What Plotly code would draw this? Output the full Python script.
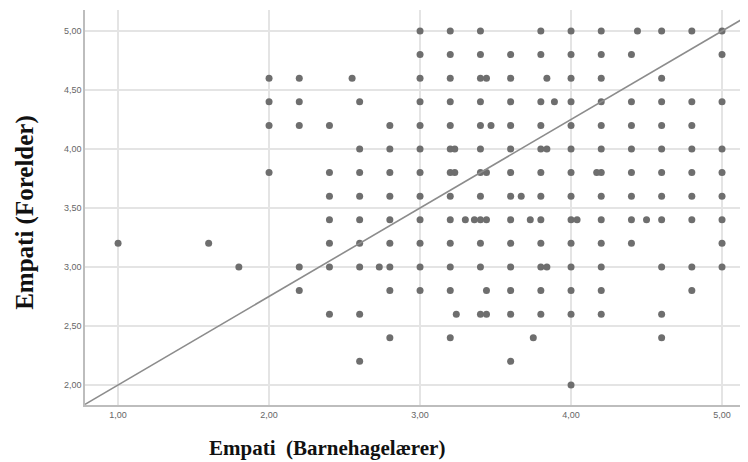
import plotly.graph_objects as go

# Parent empathy (y) rows -> teacher empathy (x) values
row_500 = [3.0, 3.2, 3.4, 3.8, 4.0, 4.2, 4.44, 4.6, 4.8, 5.0]
row_480 = [3.0, 3.2, 3.4, 3.6, 3.8, 4.0, 4.2, 4.4, 5.0]
row_460 = [2.0, 2.2, 2.55, 3.0, 3.2, 3.4, 3.44, 3.6, 3.84, 4.0, 4.2, 4.6]
row_440 = [2.0, 2.2, 2.6, 3.0, 3.2, 3.4, 3.6, 3.8, 3.89, 4.0, 4.2, 4.4, 4.6, 4.8, 5.0]
row_420 = [2.0, 2.2, 2.4, 2.8, 3.0, 3.2, 3.4, 3.47, 3.6, 3.8, 4.0, 4.2, 4.4, 4.6, 4.8]
row_400 = [2.6, 2.8, 3.0, 3.2, 3.23, 3.4, 3.6, 3.8, 3.84, 4.0, 4.2, 4.4, 4.6, 4.8, 5.0]
row_380 = [2.0, 2.4, 2.6, 2.8, 3.0, 3.2, 3.23, 3.4, 3.44, 3.6, 3.8, 4.0, 4.17, 4.2, 4.4, 4.6, 4.8, 5.0]
row_360 = [2.4, 2.6, 2.8, 3.0, 3.2, 3.4, 3.6, 3.67, 3.8, 4.0, 4.2, 4.4, 4.6, 4.8, 5.0]
row_340 = [2.4, 2.6, 2.8, 3.0, 3.2, 3.3, 3.36, 3.4, 3.44, 3.6, 3.73, 3.8, 4.0, 4.04, 4.2, 4.4, 4.5, 4.6, 4.8, 5.0]
row_320 = [1.0, 1.6, 2.4, 2.6, 2.8, 3.0, 3.2, 3.4, 3.6, 3.8, 4.0, 4.2, 4.4, 5.0]
row_300 = [1.8, 2.2, 2.4, 2.6, 2.73, 2.8, 3.0, 3.2, 3.4, 3.6, 3.8, 3.84, 4.0, 4.2, 4.6, 4.8, 5.0]
row_280 = [2.2, 2.8, 3.0, 3.2, 3.44, 3.6, 3.8, 4.0, 4.2, 4.8]
row_260 = [2.4, 2.6, 3.24, 3.4, 3.44, 3.6, 3.8, 4.0, 4.2, 4.6]
row_240 = [2.8, 3.2, 3.75, 4.6]
row_220 = [2.6, 3.6]
row_200 = [4.0]

parent_levels = [5.0, 4.8, 4.6, 4.4, 4.2, 4.0, 3.8, 3.6, 3.4, 3.2, 3.0, 2.8, 2.6, 2.4, 2.2, 2.0]
teacher_rows = [row_500, row_480, row_460, row_440, row_420, row_400, row_380, row_360,
                row_340, row_320, row_300, row_280, row_260, row_240, row_220, row_200]

# Fit line (intercept, slope)
fit_intercept = 1.25
fit_slope = 0.75

x_ticks = [1.0, 2.0, 3.0, 4.0, 5.0]
y_ticks = [2.0, 2.5, 3.0, 3.5, 4.0, 4.5, 5.0]

x_range = [0.781, 5.172]
y_range = [1.83, 5.178]

xs, ys = [], []
for lvl, row in zip(parent_levels, teacher_rows):
    for v in row:
        xs.append(v)
        ys.append(lvl)

fig = go.Figure()
fig.add_trace(go.Scatter(
    x=xs, y=ys, mode="markers",
    marker=dict(size=7, color="#6e6e6e"),
    hoverinfo="x+y", showlegend=False,
))
fig.add_trace(go.Scatter(
    x=x_range, y=[fit_intercept + fit_slope * v for v in x_range],
    mode="lines", line=dict(color="#8c8c8c", width=1.6),
    hoverinfo="skip", showlegend=False,
))

fig.update_layout(
    width=740, height=454,
    margin=dict(l=77, r=0, t=2, b=57),
    paper_bgcolor="white", plot_bgcolor="white",
    separators=",.",
    xaxis=dict(
        range=x_range, tickvals=x_ticks, tickformat=".2f",
        showgrid=True, gridcolor="#e4e4e4", gridwidth=1.5,
        zeroline=False, showline=True, linecolor="#bdbdbd", linewidth=1.5,
        ticks="", tickfont=dict(family="Liberation Sans", size=9, color="#666666"),
    ),
    yaxis=dict(
        range=y_range, tickvals=y_ticks, tickformat=".2f",
        showgrid=True, gridcolor="#e4e4e4", gridwidth=1.5,
        zeroline=False, showline=True, linecolor="#bdbdbd", linewidth=1.5,
        ticks="", tickfont=dict(family="Liberation Sans", size=9, color="#666666"),
    ),
    annotations=[
        dict(text="<b>Empati  (Barnehagelærer)</b>", xref="paper", yref="paper",
             x=0.365, y=-0.109, xanchor="center", yanchor="middle", showarrow=False,
             font=dict(family="Liberation Serif", size=21, color="#111111")),
        dict(text="<b>Empati (Forelder)</b>", xref="paper", yref="paper",
             x=-0.0905, y=0.489, xanchor="center", yanchor="middle", showarrow=False,
             textangle=-90,
             font=dict(family="Liberation Serif", size=25, color="#111111")),
    ],
)

fig.write_html("out.html")
